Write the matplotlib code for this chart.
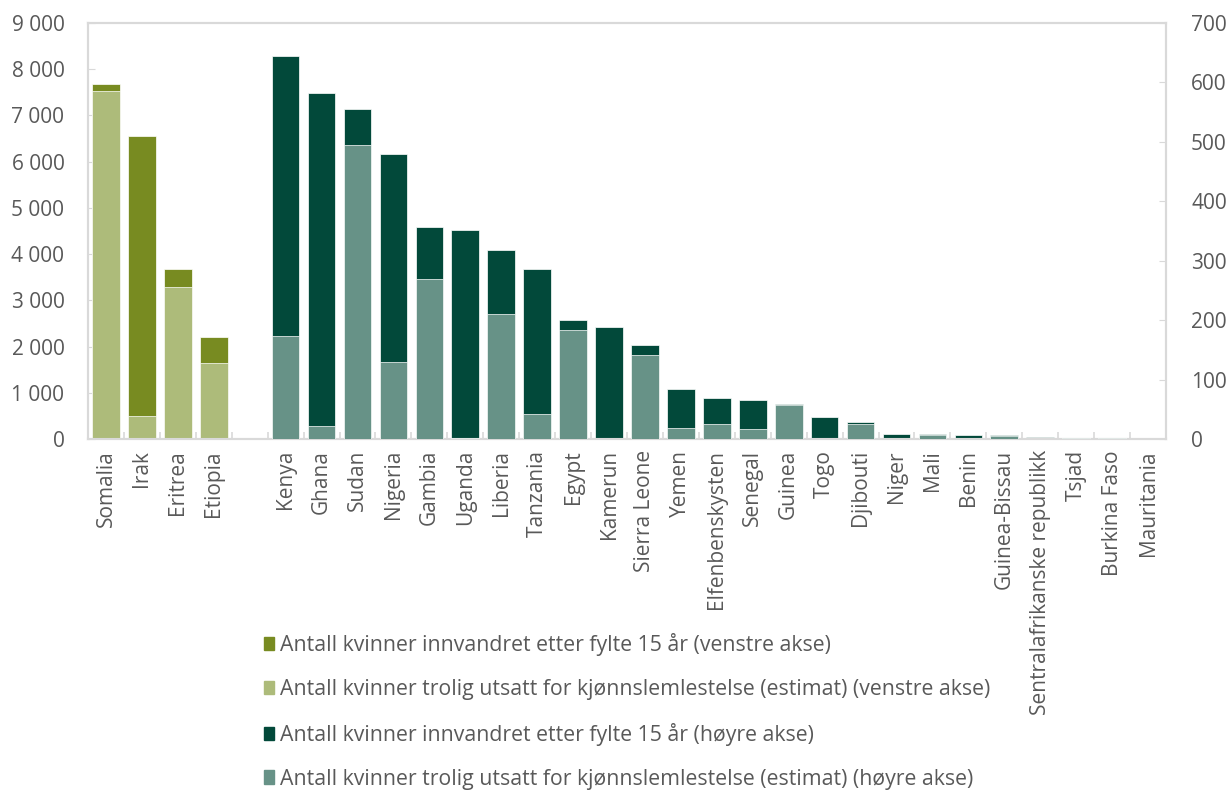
import numpy as np
import matplotlib
matplotlib.use("Agg")
import matplotlib.pyplot as plt
from matplotlib.ticker import FuncFormatter, FixedLocator
from matplotlib.patches import Patch

plt.rcParams['font.family'] = ['Open Sans', 'DejaVu Sans']

# Left-axis group
left_countries = ["Somalia", "Irak", "Eritrea", "Etiopia"]
left_total = [7670, 6550, 3680, 2210]
left_est = [7530, 505, 3280, 1640]

# Right-axis group
right_countries = ["Kenya", "Ghana", "Sudan", "Nigeria", "Gambia", "Uganda", "Liberia",
                   "Tanzania", "Egypt", "Kamerun", "Sierra Leone", "Yemen", "Elfenbenskysten",
                   "Senegal", "Guinea", "Togo", "Djibouti", "Niger", "Mali", "Benin",
                   "Guinea-Bissau", "Sentralafrikanske republikk", "Tsjad", "Burkina Faso",
                   "Mauritania"]
right_total = [644, 583, 555, 480, 356, 351, 318, 286, 201, 188, 159, 84, 69, 66, 59,
               37, 28, 9, 8, 7, 7, 3, 2, 2, 0.5]
right_est = [173, 22, 495, 129, 270, 2, 210, 42, 184, 0, 141, 19, 25, 16, 58,
             0, 26, 0, 7, 0, 4.5, 0, 2, 2, 0.3]

legend_labels = [
    "Antall kvinner innvandret etter fylte 15 år (venstre akse)",
    "Antall kvinner trolig utsatt for kjønnslemlestelse (estimat) (venstre akse)",
    "Antall kvinner innvandret etter fylte 15 år (høyre akse)",
    "Antall kvinner trolig utsatt for kjønnslemlestelse (estimat) (høyre akse)",
]

c_olive = "#788B21"
c_lightolive = "#ADBB7A"
c_dark = "#02493A"
c_teal = "#679287"
grid_c = "#D9D9D9"
txt_c = "#595959"

categories = left_countries + [""] + right_countries
x = np.arange(len(categories))
xl = x[:len(left_countries)]
xr = x[len(left_countries) + 1:]

fig = plt.figure(figsize=(12.29, 7.92), dpi=100)
ax = fig.add_axes([88/1229, 1 - 439/792, (1166-88)/1229, (439-23)/792])
ax2 = ax.twinx()

w = 0.77
ax.bar(xl, left_total, width=w, color=c_olive, edgecolor="white", linewidth=0.5, zorder=2)
ax.bar(xl, left_est, width=w, color=c_lightolive, edgecolor="white", linewidth=0.5, zorder=3)
ax2.bar(xr, right_total, width=w, color=c_dark, edgecolor="white", linewidth=0.5, zorder=2)
ax2.bar(xr, right_est, width=w, color=c_teal, edgecolor="white", linewidth=0.5, zorder=3)

ax.set_xlim(-0.5, len(categories) - 0.5)
ax.set_ylim(0, 9000)
ax2.set_ylim(0, 700)
ax.set_yticks(np.arange(0, 9001, 1000))
ax2.set_yticks(np.arange(0, 701, 100))
ax.yaxis.set_major_formatter(FuncFormatter(lambda v, p: f"{int(v):,}".replace(",", " ")))

ax.set_xticks(x)
ax.set_xticklabels(categories, rotation=90, fontsize=15, color=txt_c)
ax.xaxis.set_minor_locator(FixedLocator(np.arange(0.5, len(categories) - 0.5, 1)))
ax.tick_params(axis="x", which="major", length=0, pad=8)
ax.tick_params(axis="x", which="minor", length=5, direction="in", color=grid_c, width=1.2)
ax.tick_params(axis="y", labelsize=15, colors=txt_c, direction="in", length=5, pad=17)
ax.tick_params(axis="y", color=grid_c)
ax2.tick_params(axis="y", labelsize=15, colors=txt_c, direction="in", length=5, pad=18)
ax2.tick_params(axis="y", color=grid_c)

for a in (ax, ax2):
    for s in a.spines.values():
        s.set_color(grid_c)
        s.set_linewidth(1.5)

handles = [Patch(color=c) for c in (c_olive, c_lightolive, c_dark, c_teal)]
fig.legend(handles, legend_labels, loc="upper left", bbox_to_anchor=(264/1229, 1 - 633/792),
           frameon=False, fontsize=15.3, labelcolor=txt_c, handlelength=0.45, handleheight=0.62,
           handletextpad=0.3, labelspacing=1.08, borderaxespad=0, borderpad=0)

fig.savefig("out.png", dpi=100)
